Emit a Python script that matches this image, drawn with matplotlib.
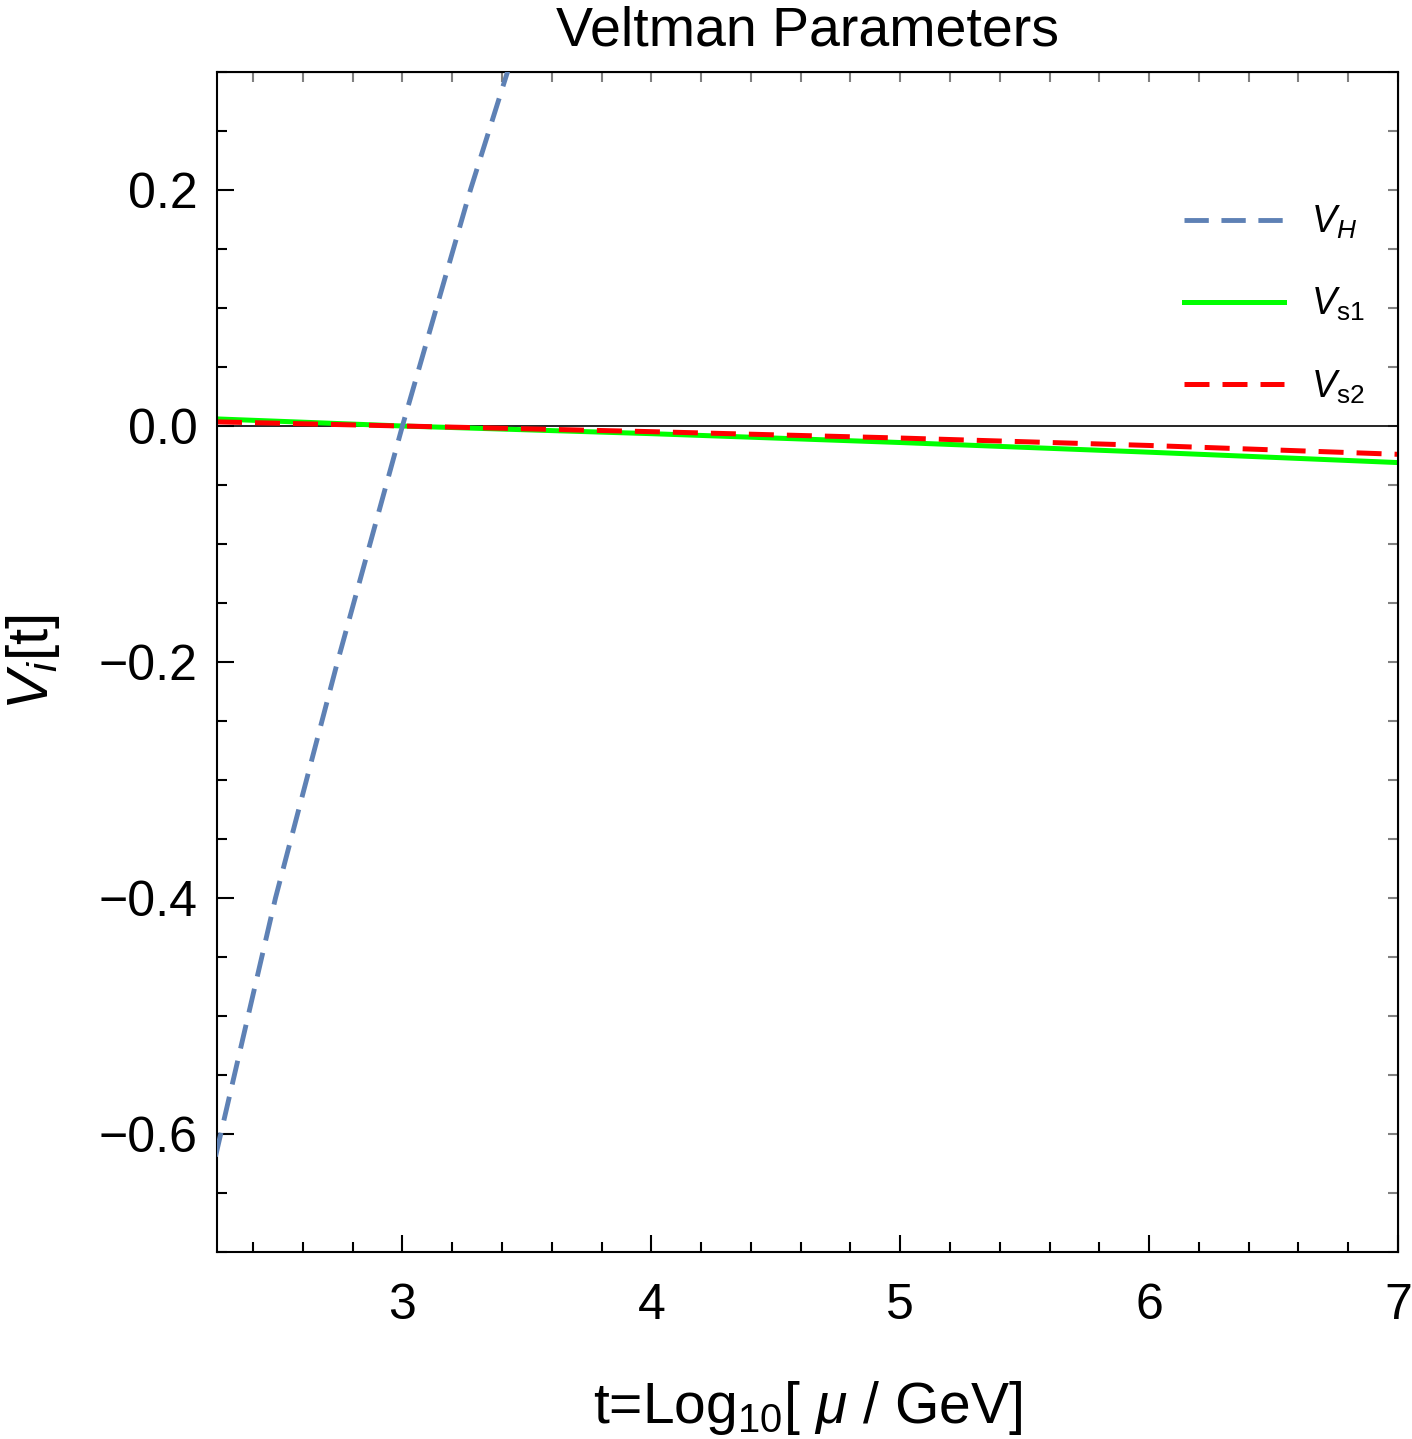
import matplotlib
matplotlib.use('Agg')
import matplotlib.pyplot as plt
from matplotlib.ticker import MultipleLocator

plt.rcParams['font.family'] = ['Liberation Sans', 'DejaVu Sans']
plt.rcParams['mathtext.fontset'] = 'custom'
plt.rcParams['mathtext.rm'] = 'Liberation Sans'
plt.rcParams['mathtext.it'] = 'Liberation Sans:italic'
plt.rcParams['mathtext.bf'] = 'Liberation Sans:bold'

# dati
t_h = [2.249, 2.49, 2.739, 3.0, 3.273, 3.422, 3.55]
v_h = [-0.619, -0.40, -0.20, 0.0, 0.20, 0.30, 0.385]

t_s = [2.255, 3.0, 4.0, 5.0, 6.0, 7.0]
v_s1 = [0.006, 0.0, -0.0065, -0.0140, -0.0222, -0.0310]
v_s2 = [0.0035, 0.0, -0.0048, -0.0102, -0.0165, -0.0240]

labels = [r'$V_H$', r'$V_{\rm s1}$', r'$V_{\rm s2}$']

fig = plt.figure(figsize=(14.12, 14.39), dpi=100)
ax = fig.add_axes([217 / 1412, 1 - 1252 / 1439, (1398 - 217) / 1412, (1252 - 72) / 1439])

ax.axhline(0, color='black', lw=1.2, zorder=1)
ax.plot(t_h, v_h, color='#5e81b5', lw=3.5, dashes=(5.0, 2.6), label=labels[0], zorder=3)
ax.plot(t_s, v_s1, color='#00ff00', lw=3.6, label=labels[1], zorder=2)
ax.plot(t_s, v_s2, color='#ff0000', lw=3.6, dashes=(5.0, 2.6), label=labels[2], zorder=2)

ax.set_xlim(2.255, 7)
ax.set_ylim(-0.7, 0.3)
ax.xaxis.set_major_locator(MultipleLocator(1))
ax.xaxis.set_minor_locator(MultipleLocator(0.2))
ax.yaxis.set_major_locator(MultipleLocator(0.2))
ax.yaxis.set_minor_locator(MultipleLocator(0.05))
ax.yaxis.set_major_formatter(plt.FuncFormatter(lambda v, p: f'{v:.1f}'.replace('-', '\u2212')))

ax.tick_params(which='both', direction='in', labelsize=36, width=1.5, color='black')
ax.tick_params(which='major', length=12)
ax.tick_params(which='minor', length=7)
ax.tick_params(axis='x', pad=22)
ax.tick_params(axis='y', pad=14)
for s in ax.spines.values():
    s.set_linewidth(1.5)

# tacche grigie sopra e a destra
top = ax.secondary_xaxis('top')
top.xaxis.set_major_locator(MultipleLocator(0.2))
top.tick_params(direction='in', length=7, color='gray', width=1.5, labeltop=False)
right = ax.secondary_yaxis('right')
right.yaxis.set_major_locator(MultipleLocator(0.05))
right.tick_params(direction='in', length=7, color='gray', width=1.5, labelright=False)

ax.set_title('Veltman Parameters', fontsize=40, pad=19)
ax.set_xlabel(r't=Log$_{10}$[ $\mu$ / GeV]', fontsize=41, labelpad=36)
ax.set_ylabel(r'$V_i$[t]', fontsize=42, labelpad=26)

ax.legend(loc='upper right', bbox_to_anchor=(1.0, 0.917), frameon=False, fontsize=27,
          handlelength=2.67, handletextpad=0.72, labelspacing=1.2)

fig.savefig('out.png', dpi=100)
